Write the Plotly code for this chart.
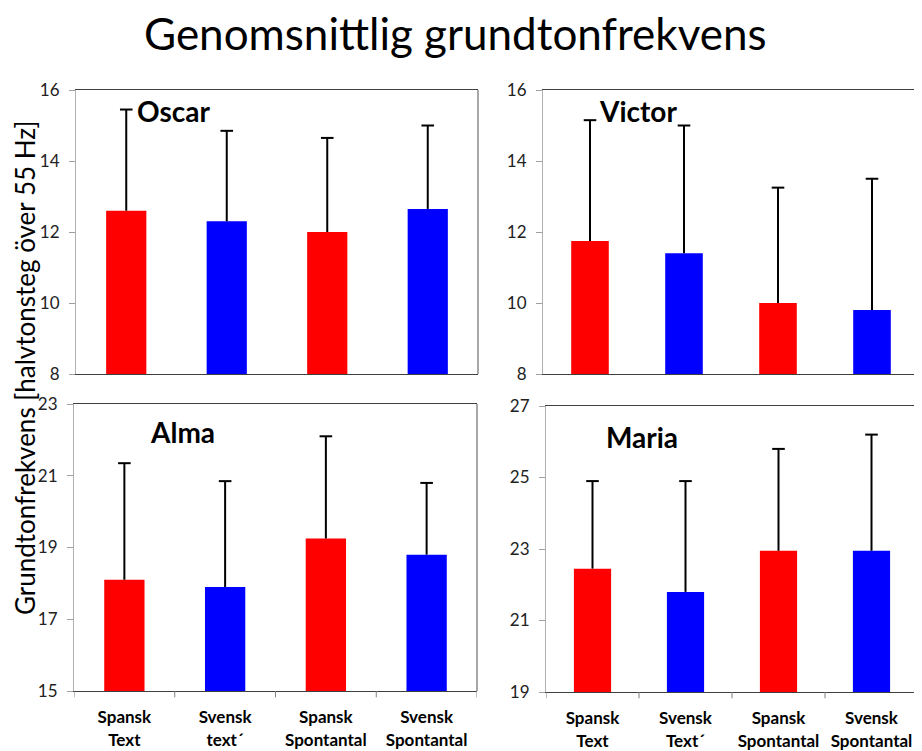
import plotly.graph_objects as go

W, H = 922, 751
OFF = 8  # page body margin offset

tick_left = ["Spansk<br>Text", "Svensk<br>text´", "Spansk<br>Spontantal", "Svensk<br>Spontantal"]
tick_right = ["Spansk<br>Text", "Svensk<br>Text´", "Spansk<br>Spontantal", "Svensk<br>Spontantal"]
bar_colors = ["#FF0000", "#0000FF", "#FF0000", "#0000FF"]

oscar_mean = [12.6, 12.3, 12.0, 12.65]
oscar_top = [15.45, 14.85, 14.65, 15.0]
victor_mean = [11.75, 11.4, 10.0, 9.8]
victor_top = [15.15, 15.0, 13.25, 13.5]
alma_mean = [18.1, 17.9, 19.25, 18.8]
alma_top = [21.35, 20.85, 22.1, 20.8]
maria_mean = [22.45, 21.8, 22.95, 22.95]
maria_top = [24.9, 24.9, 25.8, 26.2]

panels = [
    dict(name="Oscar", mean=oscar_mean, top=oscar_top, rng=[8, 16],
         px=(76, 478), py=(90, 374), label=(135, 111), ticks=None),
    dict(name="Victor", mean=victor_mean, top=victor_top, rng=[8, 16],
         px=(543, 919), py=(90, 374), label=(597, 111), ticks=None),
    dict(name="Alma", mean=alma_mean, top=alma_top, rng=[15, 23],
         px=(74, 477), py=(404, 691), label=(148, 432), ticks=tick_left),
    dict(name="Maria", mean=maria_mean, top=maria_top, rng=[19, 27],
         px=(546, 918), py=(406, 692), label=(604, 437), ticks=tick_right),
]


def fx(px):
    return (px - OFF) / W


def fy(py):
    return 1 - (py - OFF) / H


FONT = "Lato"
fig = go.Figure()
annotations = []
shapes = []
for i, p in enumerate(panels, start=1):
    xa = "x" if i == 1 else f"x{i}"
    ya = "y" if i == 1 else f"y{i}"
    xcat = list(range(4))
    fig.add_trace(go.Bar(
        x=xcat, y=p["mean"], xaxis=xa, yaxis=ya,
        marker=dict(color=bar_colors, line=dict(width=0)),
        error_y=dict(type="data", symmetric=False,
                     array=[t - m for t, m in zip(p["top"], p["mean"])],
                     arrayminus=[0] * 4, color="black", thickness=2, width=0),
        showlegend=False, hoverinfo="skip"))
    fig.add_trace(go.Scatter(
        x=xcat, y=p["top"], xaxis=xa, yaxis=ya, mode="markers",
        marker=dict(symbol="line-ew", size=9, line=dict(color="black", width=2)),
        showlegend=False, hoverinfo="skip"))
    x0, x1 = p["px"]
    y0, y1 = p["py"]
    xdom = [fx(x0), fx(x1)]
    ydom = [fy(y1), fy(y0)]
    xkey = "xaxis" if i == 1 else f"xaxis{i}"
    ykey = "yaxis" if i == 1 else f"yaxis{i}"
    xdict = dict(domain=xdom, anchor=ya, range=[-0.5, 3.5], automargin=False,
                 showgrid=False, zeroline=False, showline=True,
                 linecolor="#404040", linewidth=1, mirror=True,
                 fixedrange=True)
    if p["ticks"] is not None:
        xdict.update(tickmode="array", tickvals=xcat,
                     ticktext=[f"<b>{t}</b>" for t in p["ticks"]],
                     ticks="", tickfont=dict(family=FONT, size=17, color="black"),
                     ticklabelstandoff=11)
    else:
        xdict.update(showticklabels=False, ticks="")
    yr = p["rng"]
    ydict = dict(domain=ydom, anchor=xa, range=yr, automargin=False,
                 tickmode="array", tickvals=list(range(yr[0], yr[1] + 1, 2)),
                 ticks="outside", ticklen=6, tickcolor="#a0a0a0",
                 showgrid=False, zeroline=False, showline=True,
                 linecolor="#b0b0b0", linewidth=1,
                 tickfont=dict(family=FONT, size=17, color="#222"),
                 ticklabelstandoff=6, fixedrange=True)
    fig.update_layout({xkey: xdict, ykey: ydict})
    shapes.append(dict(type="line", xref=f"{xa} domain", yref=f"{ya} domain",
                       x0=1, x1=1, y0=0, y1=1, line=dict(color="#505050", width=1)))
    if p["ticks"] is not None:
        for b in [-0.5, 0.5, 1.5, 2.5, 3.5]:
            shapes.append(dict(type="line", xref=xa, yref=f"{ya} domain",
                               x0=b, x1=b, y0=0, y1=-0.022,
                               line=dict(color="#808080", width=1)))
    lx, ly = p["label"]
    annotations.append(dict(text=f"<b>{p['name']}</b>", x=fx(lx), y=fy(ly),
                            xref="paper", yref="paper", xanchor="left", yanchor="middle",
                            showarrow=False, font=dict(family=FONT, size=28, color="black")))

annotations.append(dict(text="Genomsnittlig grundtonfrekvens", x=fx(455), y=fy(33),
                        xref="paper", yref="paper", xanchor="center", yanchor="middle",
                        showarrow=False, font=dict(family=FONT, size=44, color="black")))
annotations.append(dict(text="Grundtonfrekvens [halvtonsteg över 55 Hz]", x=fx(25), y=fy(368),
                        xref="paper", yref="paper", xanchor="center", yanchor="middle",
                        textangle=-90, showarrow=False,
                        font=dict(family=FONT, size=26, color="black")))

fig.update_layout(width=W, height=H, margin=dict(l=0, r=0, t=0, b=0),
                  paper_bgcolor="white", plot_bgcolor="white",
                  bargap=0.6, annotations=annotations, shapes=shapes,
                  showlegend=False)
fig.write_html("out.html")
